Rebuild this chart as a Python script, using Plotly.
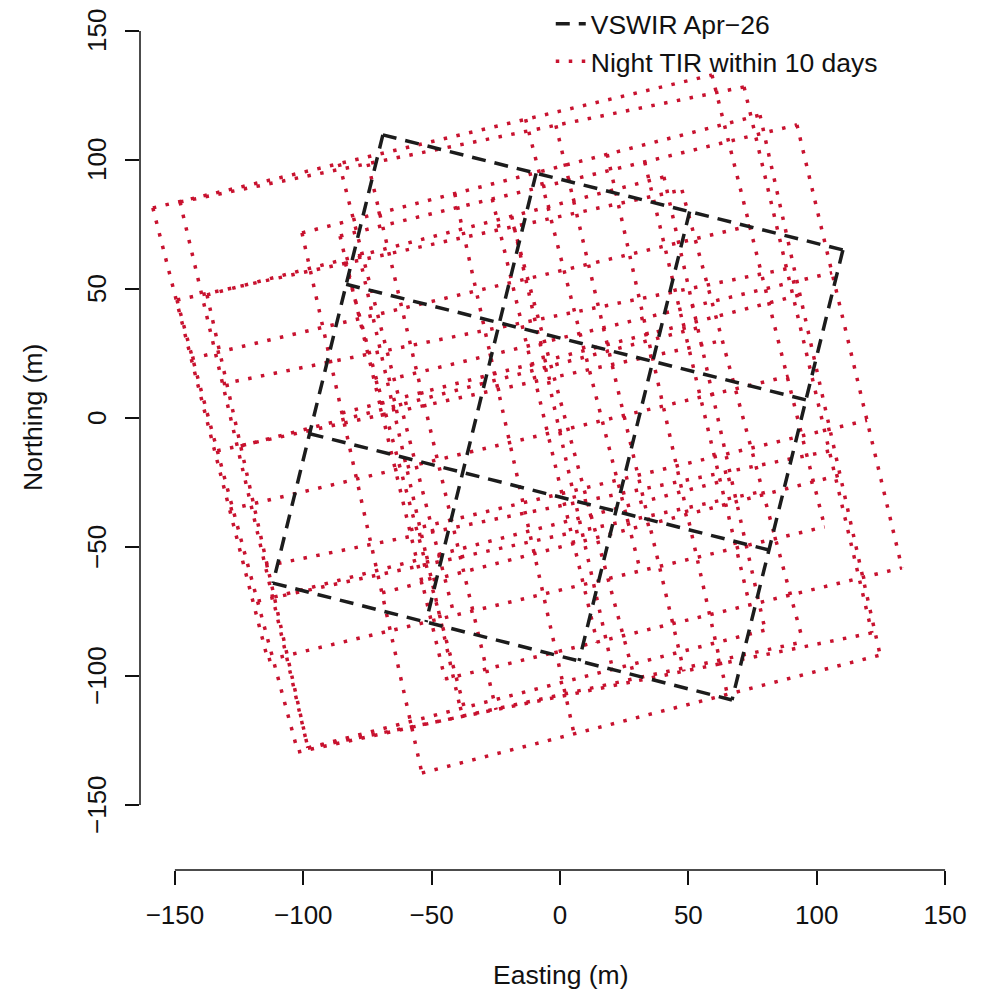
import plotly.graph_objects as go

# ---------------- data ----------------
x_tick_vals = [-150, -100, -50, 0, 50, 100, 150]
x_tick_text = ["\u2212150", "\u2212100", "\u221250", "0", "50", "100", "150"]
y_tick_vals = [-150, -100, -50, 0, 50, 100, 150]
y_tick_text = ["\u2212150", "\u2212100", "\u221250", "0", "50", "100", "150"]

# VSWIR Apr-26 footprint grid (3 x 3 pixels): row lines and column lines, [start, end]
vswir_row_x = [[-69.0, 110.2], [-83.3, 95.8], [-97.5, 81.4], [-111.8, 67.0]]
vswir_row_y = [[109.7, 65.1], [51.8, 7.0], [-6.1, -51.2], [-64.0, -109.3]]
vswir_col_x = [[-69.0, -111.8], [-9.3, -52.2], [50.5, 7.4], [110.2, 67.0]]
vswir_col_y = [[109.7, -64.0], [94.8, -79.1], [80.0, -94.2], [65.1, -109.3]]

# Night TIR footprints within 10 days (6 scenes, each a 3 x 3 pixel grid)
tir_row_x = [
    [-158.6, 59.2], [-143.6, 74.1], [-128.7, 89.1], [-113.8, 103.1],
    [-149.2, 47.5], [-133.5, 63.2], [-117.8, 79.0], [-102.1, 94.7],
    [-148.0, 71.7], [-131.4, 88.3], [-114.8, 104.9], [-98.2, 121.5],
    [-85.7, 92.3], [-72.1, 106.0], [-58.4, 119.6], [-44.8, 133.2],
    [-100.5, 77.9], [-84.9, 93.5], [-69.3, 109.1], [-53.8, 124.7],
    [-137.5, 40.5], [-124.4, 53.6], [-111.3, 66.7], [-98.2, 79.9],
]
tir_row_y = [
    [81.4, 132.9], [23.0, 74.5], [-35.4, 16.2], [-93.8, -42.2],
    [45.7, 88.4], [-12.7, 30.0], [-71.0, -28.4], [-129.5, -86.8],
    [83.7, 128.3], [13.2, 57.8], [-57.4, -12.8], [-127.9, -83.3],
    [70.5, 113.6], [13.6, 56.3], [-43.4, -0.9], [-101.2, -58.1],
    [71.7, 117.4], [1.9, 47.7], [-67.8, -22.1], [-137.6, -91.9],
    [47.7, 93.4], [-10.9, 34.9], [-69.4, -23.6], [-127.9, -82.2],
]
tir_col_x = [
    [-158.6, -113.8], [-86.0, -41.2], [-13.4, 31.4], [59.2, 103.1],
    [-149.2, -102.1], [-83.6, -36.5], [-18.0, 29.1], [47.5, 94.7],
    [-148.0, -98.2], [-74.8, -24.9], [-1.6, 48.3], [71.7, 121.5],
    [-85.7, -44.8], [-26.4, 14.5], [33.0, 73.9], [92.3, 133.2],
    [-100.5, -53.8], [-41.0, 5.7], [18.4, 65.2], [77.9, 124.7],
    [-137.5, -98.2], [-78.2, -38.8], [-18.8, 20.5], [40.5, 79.9],
]
tir_col_y = [
    [81.4, -93.8], [98.6, -76.5], [115.8, -59.6], [132.9, -42.2],
    [45.7, -129.5], [60.0, -115.2], [74.1, -101.0], [88.4, -86.8],
    [83.7, -127.9], [98.6, -113.1], [113.4, -98.2], [128.3, -83.3],
    [70.5, -101.2], [84.9, -87.1], [99.2, -72.6], [113.6, -58.1],
    [71.7, -137.6], [86.9, -123.4], [102.2, -107.2], [117.4, -91.9],
    [47.7, -127.9], [62.9, -112.7], [78.2, -97.4], [93.4, -82.2],
]


def segments(xpairs, ypairs):
    xs, ys = [], []
    for xp, yp in zip(xpairs, ypairs):
        xs += [xp[0], xp[1], None]
        ys += [yp[0], yp[1], None]
    return xs, ys


RED = "#C8122F"
DARK = "#1c1c1c"
FONT = "Liberation Sans, Arial, Helvetica, sans-serif"

tx_r, ty_r = segments(tir_row_x, tir_row_y)
tx_c, ty_c = segments(tir_col_x, tir_col_y)
vx_r, vy_r = segments(vswir_row_x, vswir_row_y)
vx_c, vy_c = segments(vswir_col_x, vswir_col_y)

fig = go.Figure()
fig.add_trace(go.Scatter(
    x=tx_r + tx_c, y=ty_r + ty_c, mode="lines",
    line=dict(color=RED, width=3.5, dash="3.5px,9.5px"),
    name="Night TIR within 10 days", hoverinfo="skip",
))
fig.add_trace(go.Scatter(
    x=vx_r + vx_c, y=vy_r + vy_c, mode="lines",
    line=dict(color=DARK, width=3.5, dash="14px,9px"),
    name="VSWIR Apr\u221226", hoverinfo="skip",
))

axis_common = dict(
    showgrid=False, zeroline=False, showline=False,
    ticks="outside", ticklen=14, tickwidth=1.5, tickcolor="#111",
    tickfont=dict(family=FONT, size=26, color="#111"),
)
fig.update_xaxes(range=[-163.6, 163.6], tickvals=x_tick_vals, ticktext=x_tick_text,
                 ticklabelstandoff=8, **axis_common)
# y tick labels are drawn as rotated annotations (R style, parallel to the axis)
fig.update_yaxes(range=[-175.2, 158.1], tickvals=y_tick_vals, showticklabels=False,
                 **axis_common)

y_label_annotations = [
    dict(text=t, xref="paper", x=0, xshift=-43, yref="y", y=v,
         textangle=-90, xanchor="center", yanchor="middle", showarrow=False,
         font=dict(family=FONT, size=26, color="#111"))
    for v, t in zip(y_tick_vals, y_tick_text)
]

fig.update_layout(
    width=983, height=997,
    margin=dict(l=132, r=11, t=2, b=135, autoexpand=False),
    plot_bgcolor="white", paper_bgcolor="white",
    font=dict(family=FONT, size=26, color="#111"),
    showlegend=True,
    legend=dict(x=0.489, y=1.0116, xanchor="left", yanchor="top",
                bgcolor="rgba(0,0,0,0)", traceorder="reversed",
                font=dict(family=FONT, size=26.5, color="#111"),
                tracegroupgap=0),
    shapes=[
        dict(type="line", xref="x", yref="paper",
             x0=min(x_tick_vals), x1=max(x_tick_vals), y0=0, y1=0,
             line=dict(color="#111", width=1.5)),
        dict(type="line", xref="paper", yref="y",
             x0=0, x1=0, y0=min(y_tick_vals), y1=max(y_tick_vals),
             line=dict(color="#111", width=1.5)),
    ],
    annotations=y_label_annotations + [
        dict(text="Easting (m)", xref="x", x=0, yref="paper", y=0, yshift=-105,
             yanchor="middle", showarrow=False, font=dict(family=FONT, size=26.5, color="#111")),
        dict(text="Northing (m)", xref="paper", x=0, xshift=-107, yref="y", y=0,
             textangle=-90, xanchor="center", yanchor="middle", showarrow=False,
             font=dict(family=FONT, size=26.5, color="#111")),
    ],
)

fig.write_html("out.html")
